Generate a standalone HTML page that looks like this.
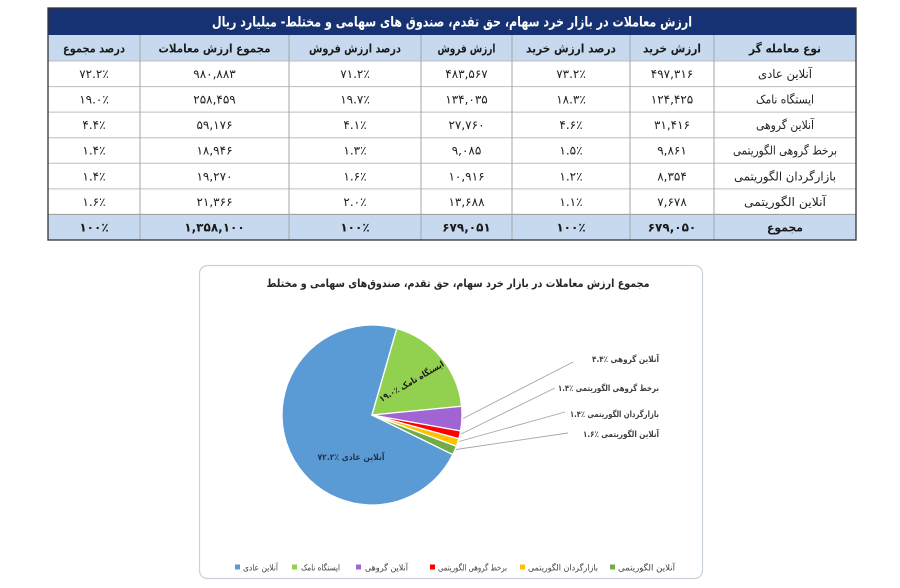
<!DOCTYPE html>
<html>
<head>
<meta charset="utf-8">
<style>
html,body{margin:0;padding:0;background:#fff;}
body{width:900px;height:588px;overflow:hidden;}
svg{display:block;}
text{font-family:"DejaVu Sans","Liberation Sans",sans-serif;}
</style>
</head>
<body>
<svg width="900" height="588" viewBox="0 0 900 588" xmlns="http://www.w3.org/2000/svg">
<rect width="900" height="588" fill="#ffffff"/>

<!-- ===== TABLE ===== -->
<rect x="48" y="8" width="808" height="27" fill="#173272"/>
<rect x="48" y="35" width="808" height="26" fill="#C6D9EF"/>
<rect x="48" y="214.4" width="808" height="25.6" fill="#C6D9EF"/>

<g stroke="#BDBDBD" stroke-width="1">
  <line x1="48" y1="61" x2="856" y2="61"/>
  <line x1="48" y1="86.6" x2="856" y2="86.6"/>
  <line x1="48" y1="112.1" x2="856" y2="112.1"/>
  <line x1="48" y1="137.7" x2="856" y2="137.7"/>
  <line x1="48" y1="163.3" x2="856" y2="163.3"/>
  <line x1="48" y1="188.9" x2="856" y2="188.9"/>
  <line x1="48" y1="214.4" x2="856" y2="214.4" stroke="#9A9A9A"/>
</g>
<g stroke="#A6A6A6" stroke-width="1">
  <line x1="140" y1="35" x2="140" y2="240"/>
  <line x1="289" y1="35" x2="289" y2="240"/>
  <line x1="421" y1="35" x2="421" y2="240"/>
  <line x1="512" y1="35" x2="512" y2="240"/>
  <line x1="630" y1="35" x2="630" y2="240"/>
  <line x1="714" y1="35" x2="714" y2="240"/>
</g>
<rect x="48" y="8" width="808" height="232" fill="none" stroke="#333333" stroke-width="1.3"/>

<!-- Title -->
<text x="452" y="26.5" fill="#ffffff" font-size="14" font-weight="bold" text-anchor="middle" textLength="480" lengthAdjust="spacingAndGlyphs">ارزش معاملات در بازار خرد سهام، حق تقدم، صندوق های سهامی و مختلط- میلیارد ریال</text>

<!-- Header -->
<g fill="#1a1a1a" font-size="12" font-weight="bold" text-anchor="middle">
  <text x="94" y="52.5" textLength="62" lengthAdjust="spacingAndGlyphs">درصد مجموع</text>
  <text x="214.5" y="52.5" textLength="112" lengthAdjust="spacingAndGlyphs">مجموع ارزش معاملات</text>
  <text x="355" y="52.5" textLength="92" lengthAdjust="spacingAndGlyphs">درصد ارزش فروش</text>
  <text x="466.5" y="52.5" textLength="58" lengthAdjust="spacingAndGlyphs">ارزش فروش</text>
  <text x="571" y="52.5" textLength="90" lengthAdjust="spacingAndGlyphs">درصد ارزش خرید</text>
  <text x="672" y="52.5" textLength="58" lengthAdjust="spacingAndGlyphs">ارزش خرید</text>
  <text x="785" y="52.5" textLength="72" lengthAdjust="spacingAndGlyphs">نوع معامله گر</text>
</g>

<!-- Row labels -->
<g fill="#222222" font-size="12" text-anchor="middle">
  <text x="785" y="78" textLength="54" lengthAdjust="spacingAndGlyphs">آنلاین عادی</text>
  <text x="785" y="103.6" textLength="58" lengthAdjust="spacingAndGlyphs">ایستگاه نامک</text>
  <text x="785" y="129.1" textLength="58" lengthAdjust="spacingAndGlyphs">آنلاین گروهی</text>
  <text x="785" y="154.7" textLength="104" lengthAdjust="spacingAndGlyphs">برخط گروهی الگوریتمی</text>
  <text x="785" y="180.3" textLength="102" lengthAdjust="spacingAndGlyphs">بازارگردان الگوریتمی</text>
  <text x="785" y="205.9" textLength="82" lengthAdjust="spacingAndGlyphs">آنلاین الگوریتمی</text>
</g>
<text x="785" y="231.4" fill="#1a1a1a" font-size="12" font-weight="bold" text-anchor="middle" textLength="36" lengthAdjust="spacingAndGlyphs">مجموع</text>

<!-- Numbers -->
<g fill="#222222" font-size="12" text-anchor="middle" direction="ltr">
  <!-- row 1 -->
  <text x="672" y="78">۴۹۷,۳۱۶</text>
  <text x="571" y="78">۷۳.۲٪</text>
  <text x="466.5" y="78">۴۸۳,۵۶۷</text>
  <text x="355" y="78">۷۱.۲٪</text>
  <text x="214.5" y="78">۹۸۰,۸۸۳</text>
  <text x="94" y="78">۷۲.۲٪</text>
  <!-- row 2 -->
  <text x="672" y="103.6">۱۲۴,۴۲۵</text>
  <text x="571" y="103.6">۱۸.۳٪</text>
  <text x="466.5" y="103.6">۱۳۴,۰۳۵</text>
  <text x="355" y="103.6">۱۹.۷٪</text>
  <text x="214.5" y="103.6">۲۵۸,۴۵۹</text>
  <text x="94" y="103.6">۱۹.۰٪</text>
  <!-- row 3 -->
  <text x="672" y="129.1">۳۱,۴۱۶</text>
  <text x="571" y="129.1">۴.۶٪</text>
  <text x="466.5" y="129.1">۲۷,۷۶۰</text>
  <text x="355" y="129.1">۴.۱٪</text>
  <text x="214.5" y="129.1">۵۹,۱۷۶</text>
  <text x="94" y="129.1">۴.۴٪</text>
  <!-- row 4 -->
  <text x="672" y="154.7">۹,۸۶۱</text>
  <text x="571" y="154.7">۱.۵٪</text>
  <text x="466.5" y="154.7">۹,۰۸۵</text>
  <text x="355" y="154.7">۱.۳٪</text>
  <text x="214.5" y="154.7">۱۸,۹۴۶</text>
  <text x="94" y="154.7">۱.۴٪</text>
  <!-- row 5 -->
  <text x="672" y="180.3">۸,۳۵۴</text>
  <text x="571" y="180.3">۱.۲٪</text>
  <text x="466.5" y="180.3">۱۰,۹۱۶</text>
  <text x="355" y="180.3">۱.۶٪</text>
  <text x="214.5" y="180.3">۱۹,۲۷۰</text>
  <text x="94" y="180.3">۱.۴٪</text>
  <!-- row 6 -->
  <text x="672" y="205.9">۷,۶۷۸</text>
  <text x="571" y="205.9">۱.۱٪</text>
  <text x="466.5" y="205.9">۱۳,۶۸۸</text>
  <text x="355" y="205.9">۲.۰٪</text>
  <text x="214.5" y="205.9">۲۱,۳۶۶</text>
  <text x="94" y="205.9">۱.۶٪</text>
</g>
<g fill="#1a1a1a" font-size="12" font-weight="bold" text-anchor="middle" direction="ltr">
  <text x="672" y="231.4">۶۷۹,۰۵۰</text>
  <text x="571" y="231.4">۱۰۰٪</text>
  <text x="466.5" y="231.4">۶۷۹,۰۵۱</text>
  <text x="355" y="231.4">۱۰۰٪</text>
  <text x="214.5" y="231.4">۱,۳۵۸,۱۰۰</text>
  <text x="94" y="231.4">۱۰۰٪</text>
</g>

<!-- ===== CHART ===== -->
<rect x="199.5" y="265.5" width="503" height="313" rx="8" ry="8" fill="#ffffff" stroke="#C9D1DA" stroke-width="1.2"/>

<text x="458" y="287" fill="#262626" font-size="11" font-weight="bold" text-anchor="middle" textLength="383" lengthAdjust="spacingAndGlyphs">مجموع ارزش معاملات در بازار خرد سهام، حق تقدم، صندوق‌های سهامی و مختلط</text>

<!-- Pie: center 372,415 r 90 -->
<g stroke="#ffffff" stroke-width="1.3" stroke-linejoin="round">
  <path d="M372,415 L452.83,454.57 A90,90 0 1,1 396.8,328.5 Z" fill="#5B9BD5"/>
  <path d="M372,415 L396.8,328.5 A90,90 0 0,1 461.57,406.22 Z" fill="#92D050"/>
  <path d="M372,415 L461.57,406.22 A90,90 0 0,1 460.57,431.0 Z" fill="#A064D4"/>
  <path d="M372,415 L460.57,431.0 A90,90 0 0,1 458.82,438.72 Z" fill="#FF0000"/>
  <path d="M372,415 L458.82,438.72 A90,90 0 0,1 456.40,446.25 Z" fill="#FFC000"/>
  <path d="M372,415 L456.40,446.25 A90,90 0 0,1 452.83,454.57 Z" fill="#70AD47"/>
</g>

<!-- Leader lines -->
<g stroke="#A6A6A6" stroke-width="0.9" fill="none">
  <line x1="463" y1="418.5" x2="573" y2="362"/>
  <line x1="461" y1="434" x2="555" y2="388"/>
  <line x1="459" y1="441.5" x2="565" y2="412"/>
  <line x1="456" y1="449.5" x2="568" y2="433"/>
</g>

<!-- Slice labels -->
<g fill="#404040" font-size="8.5" font-weight="bold" text-anchor="end">
  <text x="659" y="362" textLength="67" lengthAdjust="spacingAndGlyphs">آنلاین گروهی ٪۴.۴</text>
  <text x="659" y="391" textLength="101" lengthAdjust="spacingAndGlyphs">برخط گروهی الگوریتمی ٪۱.۴</text>
  <text x="659" y="417" textLength="89" lengthAdjust="spacingAndGlyphs">بازارگردان الگوریتمی ٪۱.۴</text>
  <text x="659" y="437" textLength="76" lengthAdjust="spacingAndGlyphs">آنلاین الگوریتمی ٪۱.۶</text>
</g>

<text x="0" y="0" transform="translate(413,384) rotate(-30)" fill="#1a1a1a" font-size="8.5" font-weight="bold" text-anchor="middle" textLength="73" lengthAdjust="spacingAndGlyphs">ایستگاه نامک ٪۱۹.۰</text>
<text x="351" y="460" fill="#24324A" font-size="8.5" font-weight="bold" text-anchor="middle" textLength="67" lengthAdjust="spacingAndGlyphs">آنلاین عادی ٪۷۲.۲</text>

<!-- Legend -->
<g>
  <rect x="235" y="564.5" width="5" height="5" fill="#5B9BD5"/>
  <rect x="292" y="564.5" width="5" height="5" fill="#92D050"/>
  <rect x="356" y="564.5" width="5" height="5" fill="#A064D4"/>
  <rect x="430" y="564.5" width="5" height="5" fill="#FF0000"/>
  <rect x="520" y="564.5" width="5" height="5" fill="#FFC000"/>
  <rect x="610" y="564.5" width="5" height="5" fill="#70AD47"/>
</g>
<g fill="#404040" font-size="8.5" text-anchor="end">
  <text x="278" y="570.5" textLength="35" lengthAdjust="spacingAndGlyphs">آنلاین عادی</text>
  <text x="340" y="570.5" textLength="39" lengthAdjust="spacingAndGlyphs">ایستگاه نامک</text>
  <text x="408" y="570.5" textLength="43" lengthAdjust="spacingAndGlyphs">آنلاین گروهی</text>
  <text x="507" y="570.5" textLength="69" lengthAdjust="spacingAndGlyphs">برخط گروهی الگوریتمی</text>
  <text x="598" y="570.5" textLength="70" lengthAdjust="spacingAndGlyphs">بازارگردان الگوریتمی</text>
  <text x="675" y="570.5" textLength="57" lengthAdjust="spacingAndGlyphs">آنلاین الگوریتمی</text>
</g>
</svg>
</body>
</html>
